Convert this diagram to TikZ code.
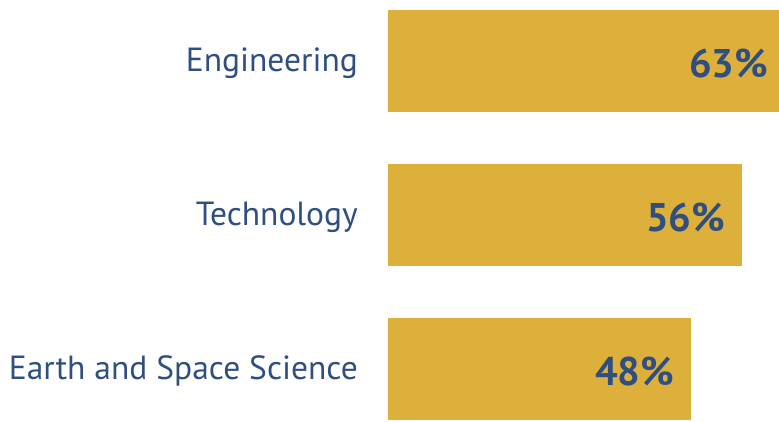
\documentclass[tikz,border=0pt]{standalone}
\usepackage{fontspec}
\setmainfont{PT Sans}
\usetikzlibrary{positioning}
\definecolor{bargold}{HTML}{DDB03C}
\definecolor{labelblue}{HTML}{2F4F80}
\tikzset{
  bar/.style={fill=bargold, draw=none, anchor=north west, inner sep=0pt, minimum height=102pt},
  pct/.style={text=labelblue, font=\fontsize{40}{42}\selectfont\bfseries, inner sep=0pt, anchor=east},
  cat/.style={text=labelblue, font=\fontsize{33.5}{35}\selectfont, inner sep=0pt}
}
\begin{document}
\begin{tikzpicture}[x=1pt,y=-1pt]
\useasboundingbox (0,0) rectangle (779,421);
\foreach \y/\w/\name/\lab/\pc in {10/397/eng/Engineering/63, 164/354/tech/Technology/56, 318/303/ess/Earth and Space Science/48}
  {\node[bar, minimum width=\w pt] (\name) at (388,\y) {};
   \node[pct] (\name-pct) at ([xshift=-17pt, yshift=-2pt]\name.east) {\pc\%};
   \node[cat, left=30pt of \name, yshift=-2pt] (\name-lab) {\lab};};
\end{tikzpicture}
\end{document}
